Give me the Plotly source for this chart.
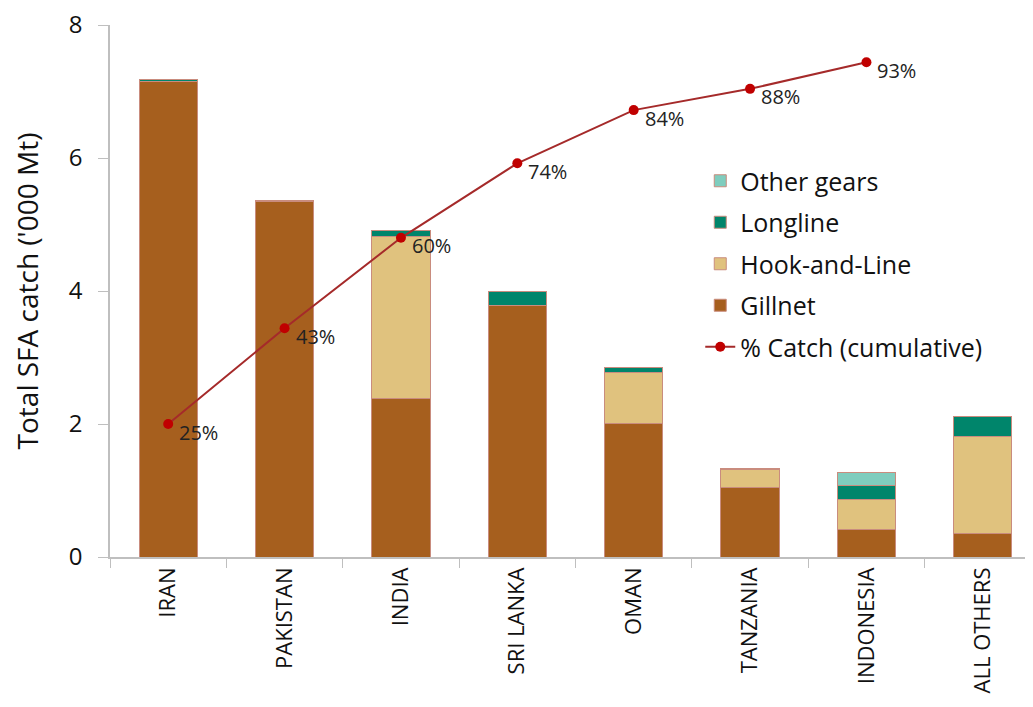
import plotly.graph_objects as go

categories = ["IRAN", "PAKISTAN", "INDIA", "SRI LANKA", "OMAN", "TANZANIA", "INDONESIA", "ALL OTHERS"]
gillnet = [7.15, 5.35, 2.38, 3.78, 2.01, 1.04, 0.42, 0.36]
hook_and_line = [0.0, 0.0, 2.44, 0.0, 0.77, 0.28, 0.45, 1.45]
longline = [0.03, 0.01, 0.09, 0.21, 0.07, 0.01, 0.21, 0.30]
other_gears = [0.0, 0.0, 0.0, 0.0, 0.0, 0.0, 0.19, 0.0]

cum_categories = categories[:7]
cum_pct = [25, 43, 60, 74, 84, 88, 93]
cum_labels = ["25%", "43%", "60%", "74%", "84%", "88%", "93%"]

FONT = "Open Sans"
outline = dict(color="#C98C7E", width=1)

fig = go.Figure()
series = [
    ("Gillnet", gillnet, "#A65F1E", 4),
    ("Hook-and-Line", hook_and_line, "#E0C27E", 3),
    ("Longline", longline, "#00856B", 2),
    ("Other gears", other_gears, "#7FCDBE", 1),
]
for name, vals, col, rank in series:
    fig.add_trace(go.Bar(
        x=categories, y=vals, name=name, marker=dict(color=col, line=outline),
        width=0.5, legendrank=rank, legendgroup=name,
    ))

fig.add_trace(go.Scatter(
    x=cum_categories, y=cum_pct, yaxis="y2", name="% Catch (cumulative)",
    mode="lines+markers",
    line=dict(color="#A52A2A", width=2), marker=dict(color="#C00000", size=10),
    legendrank=5, legendgroup="cum",
))

for cat, pct, lab in zip(cum_categories, cum_pct, cum_labels):
    fig.add_annotation(
        x=cat, y=pct, xref="x", yref="y2", text=lab, showarrow=False,
        xanchor="left", yanchor="middle", xshift=9, yshift=-8,
        font=dict(family=FONT, size=20, color="#222222"),
    )

fig.update_layout(
    width=1033, height=707,
    margin=dict(l=102, r=0, t=17, b=158),
    barmode="stack",
    plot_bgcolor="white", paper_bgcolor="white",
    font=dict(family=FONT, color="#000000"),
    showlegend=True,
    legend=dict(
        x=0.634, y=0.75, xanchor="left", yanchor="top",
        font=dict(family=FONT, size=25, color="#111111"),
        traceorder="grouped", tracegroupgap=6,
        bgcolor="rgba(0,0,0,0)",
    ),
    xaxis=dict(
        showline=True, linecolor="#BFBFBF", linewidth=1.5,
        ticks="outside", tickson="boundaries", ticklen=9, tickcolor="#BFBFBF",
        tickangle=-90, tickfont=dict(family=FONT, size=22, color="#111111"),
        showgrid=False, automargin=False,
    ),
    yaxis=dict(
        range=[0, 8], dtick=2, showline=True, linecolor="#BFBFBF", linewidth=1.5,
        ticks="outside", ticklen=10, tickcolor="#BFBFBF", showgrid=False, zeroline=False,
        ticklabelstandoff=11, automargin=False, ticklabeloverflow="allow",
        tickfont=dict(family=FONT, size=24, color="#111111"),
        title=dict(text="Total SFA catch ('000 Mt)", font=dict(family=FONT, size=28, color="#111111"), standoff=29),
    ),
    yaxis2=dict(range=[0, 100], overlaying="y", visible=False),
)

fig.write_html("out.html")
